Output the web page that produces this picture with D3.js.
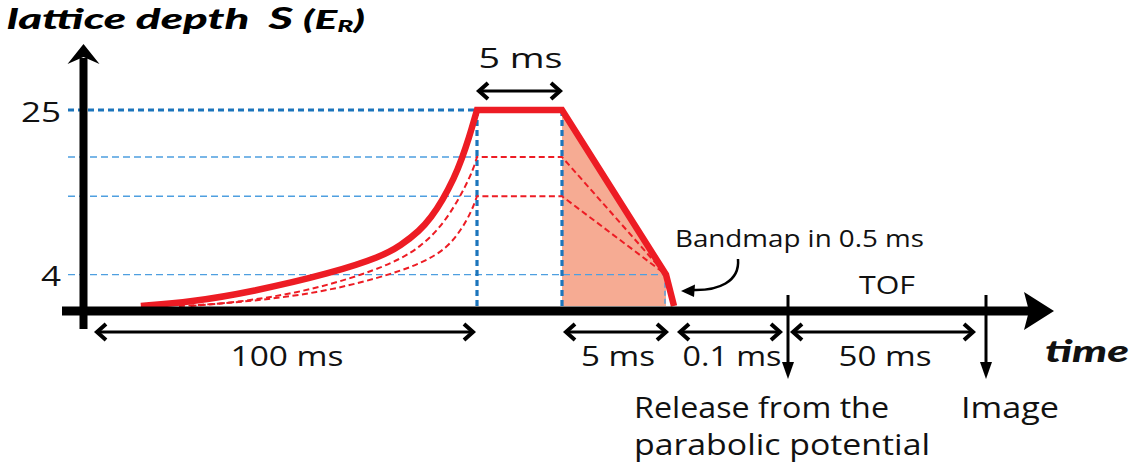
<!DOCTYPE html>
<html>
<head>
<meta charset="utf-8">
<script src="https://cdn.jsdelivr.net/npm/d3@7"></script>
<style>
  html, body { margin: 0; padding: 0; background: #fff; }
  svg { display: block; }
</style>
</head>
<body>
<svg id="chart" width="1139" height="471"></svg>
<script>
// Lattice depths (E_R) reached at the end of the ramp-up
const levels = [25, 19, 14, 4];
const depthTicks = [25, 4];

// Sequence breakpoints (ms): ramp start, ramp end, hold end, bandmap start/end, release, image
const timeMarks = [0, 100, 105, 110, 110.5, 110.6, 160.6];

// Exponential ramp-up to each final depth, [t (ms), S (E_R)]
const rampTo25 = [[12, 0], [25, 0.5], [41, 1.8], [62, 4.2], [75, 6.3], [80, 7.7], [85, 9.6], [88, 11.3], [91, 13.5], [94, 16.3], [96, 18.7], [98, 21.6], [99.3, 23.8], [100, 25]];
const rampTo19 = [[25, 0], [36, 0.4], [54, 1.7], [71, 4.1], [80, 6.0], [85, 7.5], [90, 9.8], [94, 12.6], [97, 15.3], [99, 17.4], [100, 19]];
const rampTo14 = [[22, 0], [30, 0.2], [45, 0.8], [62, 2.0], [78, 4.1], [86, 5.6], [92, 7.3], [96, 9.8], [98.5, 12], [100, 14]];

// Duration arrows below the time axis
const spanLabels = ["100 ms", "5 ms", "0.1 ms", "50 ms"];
const spanFrom = [0, 105, 110.5, 110.6];
const spanTo = [100, 110, 110.6, 160.6];

const holdStart = 100, holdEnd = 105, bandmapStart = 110, bandmapEnd = 110.5, release = 110.6, image = 160.6;
const bandmapDepth = 4;

const svg = d3.select("#chart");
const x = d3.scaleLinear().domain(timeMarks).range([95, 477, 562, 666, 674, 788, 986]);
const y = d3.scaleLinear().domain([0, 25]).range([306, 110]);

const RED = "#ed1c24", FILL = "#f6ab93", BLUE = "#1c75bc", BLUE_LIGHT = "#4e9fe0", INK = "#111";
const FONT = "'Open Sans', 'Noto Sans', sans-serif";
const TITLE_FONT = "Lato, 'Open Sans', sans-serif";
const axisY = 311, axisX = 83.5;

function label(text, x0, yb, size, width, opts = {}) {
  return svg.append("text")
    .attr("x", x0).attr("y", yb)
    .attr("font-family", opts.family || FONT).attr("font-size", size)
    .attr("font-weight", opts.weight || 400)
    .attr("font-style", opts.style || "normal")
    .attr("text-anchor", opts.anchor || "start")
    .attr("textLength", width).attr("lengthAdjust", "spacingAndGlyphs")
    .attr("fill", INK)
    .text(text);
}

// Shaded ramp-down region
svg.append("path")
  .attr("d", d3.line()([
    [x(holdEnd), y(25)], [x(bandmapStart), y(bandmapDepth)],
    [x(bandmapStart), y(0)], [x(holdEnd), y(0)]
  ]) + "Z")
  .attr("fill", FILL);

// Horizontal depth guides
levels.forEach(L => {
  const heavy = L === 25;
  svg.append("line")
    .attr("x1", 68).attr("x2", L === bandmapDepth ? x(bandmapStart) - 2 : x(holdStart))
    .attr("y1", y(L)).attr("y2", y(L))
    .attr("stroke", heavy ? BLUE : BLUE_LIGHT)
    .attr("stroke-width", heavy ? 3.2 : 1.4)
    .attr("stroke-dasharray", heavy ? "6,4" : "7,4");
});

// Vertical time guides
[holdStart, holdEnd].forEach(t => {
  svg.append("line")
    .attr("x1", x(t)).attr("x2", x(t)).attr("y1", y(25)).attr("y2", y(0))
    .attr("stroke", BLUE).attr("stroke-width", 3.2).attr("stroke-dasharray", "6,4");
});
svg.append("line")
  .attr("x1", x(bandmapStart) - 1).attr("x2", x(bandmapStart) - 1)
  .attr("y1", y(bandmapDepth)).attr("y2", y(0))
  .attr("stroke", BLUE_LIGHT).attr("stroke-width", 1.4).attr("stroke-dasharray", "5,3");

// Ramp path: smooth ramp-up followed by straight segments
function sequencePath(points, tail) {
  const p = d3.path();
  d3.line().x(d => x(d[0])).y(d => y(d[1])).curve(d3.curveBasis).context(p)(points);
  tail.forEach(d => p.lineTo(x(d[0]), y(d[1])));
  return p.toString();
}

[[rampTo19, 19], [rampTo14, 14]].forEach(([pts, L]) => {
  svg.append("path")
    .attr("d", sequencePath(pts, [[holdEnd, L], [bandmapStart, bandmapDepth]]))
    .attr("fill", "none").attr("stroke", RED).attr("stroke-width", 2)
    .attr("stroke-dasharray", "6,3.5");
});

svg.append("path")
  .attr("d", sequencePath(rampTo25, [[holdEnd, 25], [bandmapStart, bandmapDepth], [bandmapEnd, 0]]))
  .attr("fill", "none").attr("stroke", RED).attr("stroke-width", 6.5)
  .attr("stroke-linejoin", "miter");

// Axes
svg.append("line")
  .attr("x1", 62).attr("x2", 1040).attr("y1", axisY).attr("y2", axisY)
  .attr("stroke", "#000").attr("stroke-width", 9);
svg.append("path").attr("d", `M1054,${axisY} L1024,${axisY - 19} L1029,${axisY} L1024,${axisY + 19} Z`).attr("fill", "#000");
svg.append("line")
  .attr("x1", axisX).attr("x2", axisX).attr("y1", 329).attr("y2", 58)
  .attr("stroke", "#000").attr("stroke-width", 8);
svg.append("path").attr("d", `M${axisX},44 L${axisX + 16},64 L${axisX},57 L${axisX - 16},64 Z`).attr("fill", "#000");

// Depth tick labels
const yAxis = svg.append("g")
  .attr("transform", "translate(61,0)")
  .call(d3.axisLeft(y).tickValues(depthTicks).tickSize(0).tickPadding(0));
yAxis.select(".domain").remove();
yAxis.selectAll("text")
  .attr("font-family", FONT).attr("font-size", 28).attr("fill", INK)
  .attr("dy", "0.4em").attr("transform", "scale(1.25,1)");

// Double-headed duration arrows
function doubleArrow(x1, x2, yy) {
  const g = svg.append("g").attr("stroke", "#000").attr("fill", "none");
  g.append("line").attr("x1", x1 + 2).attr("x2", x2 - 2).attr("y1", yy).attr("y2", yy).attr("stroke-width", 3);
  g.append("path").attr("d", `M${x1 + 11},${yy - 8} L${x1 + 2},${yy} L${x1 + 11},${yy + 8}`).attr("stroke-width", 4);
  g.append("path").attr("d", `M${x2 - 11},${yy - 8} L${x2 - 2},${yy} L${x2 - 11},${yy + 8}`).attr("stroke-width", 4);
}

doubleArrow(x(holdStart), x(holdEnd), 91);
label("5 ms", (x(holdStart) + x(holdEnd)) / 2 + 1, 68, 28, 84, { anchor: "middle" });

const spanTextWidth = { "100 ms": 113, "5 ms": 74, "0.1 ms": 99, "50 ms": 93 };
const spanInset = { "100 ms": [0, 2], "5 ms": [2, -2], "0.1 ms": [4, 6], "50 ms": [3, 11] };
spanLabels.forEach((s, i) => {
  const a = x(spanFrom[i]) + spanInset[s][0], b = x(spanTo[i]) - spanInset[s][1];
  doubleArrow(a, b, 332);
  label(s, (a + b) / 2 + 2, 366, 27, spanTextWidth[s], { anchor: "middle" });
});

// Event markers
function downMarker(t) {
  const xx = x(t);
  svg.append("line").attr("x1", xx).attr("x2", xx).attr("y1", 295).attr("y2", 366)
    .attr("stroke", "#000").attr("stroke-width", 3);
  svg.append("path").attr("d", `M${xx - 6},${362} L${xx + 6},${362} L${xx},${379} Z`).attr("fill", "#000");
}
downMarker(release);
downMarker(image);

label("TOF", (x(release) + x(image)) / 2, 294, 25, 56, { anchor: "middle" });
label("Release from the", 634, 418, 30, 255);
label("parabolic potential", 634, 455, 30, 296);
label("Image", 961, 418, 30, 98);

// Bandmap annotation with curved pointer
label("Bandmap in 0.5 ms", 675, 247, 24, 249);
svg.append("path")
  .attr("d", "M738,259 C740,282 718,291 692,290")
  .attr("fill", "none").attr("stroke", "#000").attr("stroke-width", 2.5);
svg.append("path").attr("d", "M681,291 L695,284.5 L694,297 Z").attr("fill", "#000");

// Axis titles
label("time", 1045, 362, 31, 84, { weight: 900, style: "italic", family: TITLE_FONT });

const title = svg.append("text")
  .attr("x", 7).attr("y", 29)
  .attr("font-family", TITLE_FONT).attr("font-weight", 900).attr("font-style", "italic")
  .attr("font-size", 29).attr("fill", "#000")
  .attr("textLength", 358).attr("lengthAdjust", "spacingAndGlyphs");
title.append("tspan").text("lattice depth\u00a0\u00a0");
title.append("tspan").attr("font-size", 30).text("S ");
title.append("tspan").attr("font-size", 27).text("(E");
title.append("tspan").attr("font-size", 17).attr("dy", 3).text("R");
title.append("tspan").attr("font-size", 27).attr("dy", -3).text(")");
</script>
</body>
</html>
